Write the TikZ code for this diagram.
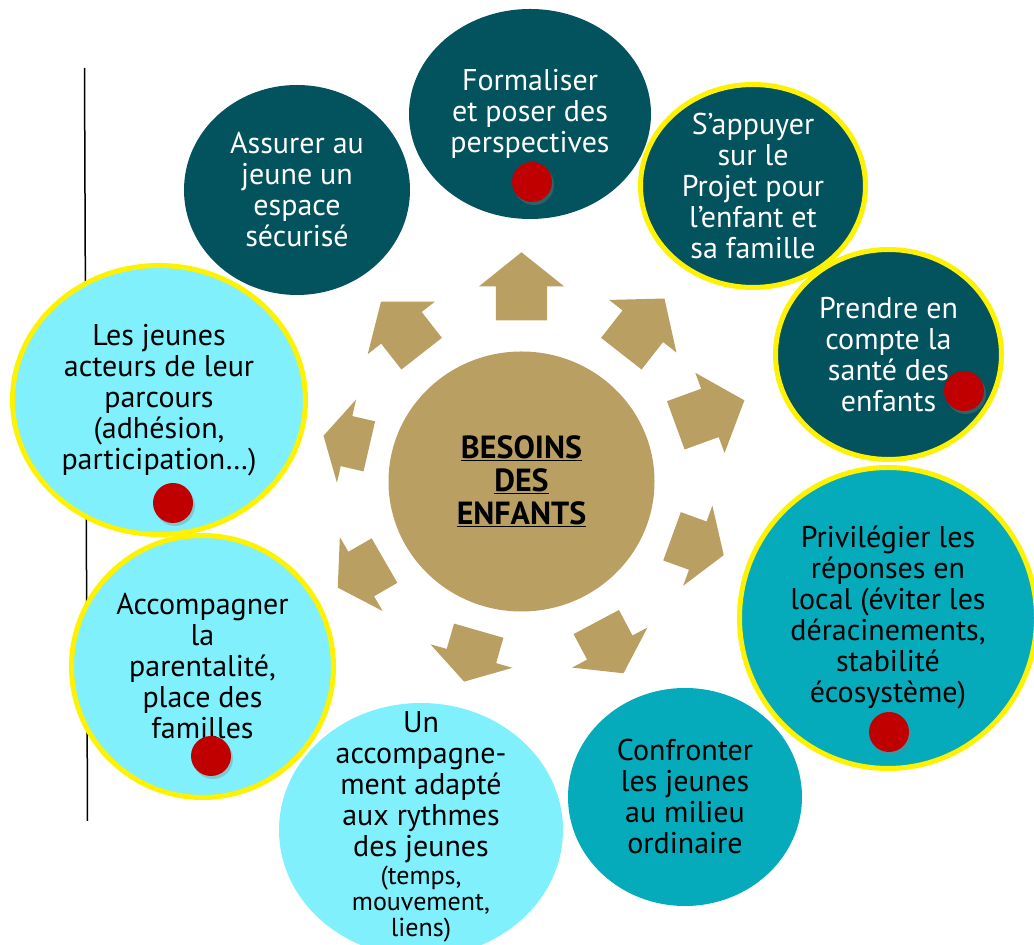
\documentclass[tikz,border=0pt]{standalone}
\usepackage{fontspec}
\setmainfont{PT Sans}
\usepackage{xcolor}
\usetikzlibrary{shapes,shadows,positioning,calc}

\definecolor{darkteal}{HTML}{03535E}
\definecolor{midteal}{HTML}{05AABB}
\definecolor{lightcyan}{HTML}{80F0FC}
\definecolor{gold}{HTML}{B9A062}
\definecolor{dotred}{HTML}{C00000}

\tikzset{
  bulle/.style={ellipse, inner sep=0pt},
  sombre/.style={bulle, fill=darkteal},
  moyen/.style={bulle, fill=midteal},
  clair/.style={bulle, fill=lightcyan},
  bord/.style={draw=yellow, line width=5pt},
  txtw/.style={text=white, align=center, inner sep=0pt, font=\fontsize{30}{31}\selectfont},
  txtn/.style={text=black, align=center, inner sep=0pt, font=\fontsize{30}{31}\selectfont},
  petit/.style={font=\fontsize{26}{26}\selectfont},
  point/.style={circle, fill=dotred, minimum size=40pt, inner sep=0pt,
    drop shadow={shadow xshift=2pt, shadow yshift=-3pt, opacity=.35}},
  fleche/.style={single arrow, fill=gold, inner xsep=0pt, inner ysep=25.5pt,
    minimum height=70pt, minimum width=85pt, single arrow head extend=17pt,
    single arrow tip angle=101, anchor=tail}
}

\begin{document}
\begin{tikzpicture}[x=1pt,y=1pt]
\useasboundingbox (0,0) rectangle (1034,945);
\clip (0,0) rectangle (1034,945);
\fill[white] (0,0) rectangle (1034,945);

\coordinate (haut) at (84.5,877);
\coordinate (bas) at (87.5,124);
\draw[line width=1.5pt] (haut) -- (bas);

% centre
\node[bulle, fill=gold, minimum width=266pt, minimum height=260pt,
  font=\bfseries\fontsize{32}{33}\selectfont, align=center] (besoins) at (521.5,463.5)
  {\underline{BESOINS}\\\underline{DES}\\\underline{ENFANTS}};

% fleches : angle / depart / longueur
\foreach \a/\r/\l [count=\i] in {90/161/68, 52/162/70, 20/164/73, -20/160/55, -62/159/58,
    -106/155/53, -150/158/54, 167/156/47, 128/162/66}{
  \pgfmathsetmacro\pointe{2*atan(85/\l)}
  \node[fleche, minimum height=\l, single arrow tip angle=\pointe, rotate=\a]
    (fleche\i) at ($(besoins.center)+(\a:\r)$) {};
}

% bulles
\node[sombre, minimum width=226pt, minimum height=210pt] (espace) at (297,755) {};
\node[txtw] (espace-t) at (espace) {Assurer au\\jeune un\\espace\\sécurisé};

\node[sombre, minimum width=242pt, minimum height=210pt] (perspectives) at (530,831) {};
\node[txtw] (perspectives-t) at (perspectives) {Formaliser\\et poser des\\perspectives};
\node[point] (perspectives-p) at (532,763) {};

\node[sombre, bord, minimum width=225pt, minimum height=203pt] (projet) at (753,759) {};
\node[txtw] (projet-t) at (projet) {S’appuyer\\sur le\\Projet pour\\l’enfant et\\sa famille};

\node[sombre, bord, minimum width=226pt, minimum height=210pt] (sante) at (888.5,590.5) {};
\node[txtw] (sante-t) at (sante) {Prendre en\\compte la\\santé des\\enfants};
\node[point] (sante-p) at (964,554) {};

\node[clair, minimum width=284pt, minimum height=254pt] (rythmes) at (421,115) {};
\node[txtn, below=9pt of rythmes.north] (rythmes-t) {Un\\accompagne-\\ment adapté\\aux rythmes\\des jeunes};
\node[txtn, petit, below=2pt of rythmes-t] (rythmes-s) {(temps,\\mouvement,\\liens)};

\node[clair, bord, minimum width=293pt, minimum height=269pt] (acteurs) at (159,545) {};
\node[txtn] (acteurs-t) at (acteurs) {Les jeunes\\acteurs de leur\\parcours\\(adhésion,\\participation…)};
\node[point] (acteurs-p) at (173,442) {};

\node[clair, bord, minimum width=262pt, minimum height=262pt] (parentalite) at (202.5,278.5) {};
\node[txtn] (parentalite-t) at (parentalite) {Accompagner\\la\\parentalité,\\place des\\familles};
\node[point] (parentalite-p) at (211,189) {};

\node[moyen, minimum width=234pt, minimum height=218pt] (milieu) at (685,148) {};
\node[txtn] (milieu-t) at (milieu) {Confronter\\les jeunes\\au milieu\\ordinaire};

\node[moyen, bord, minimum width=297pt, minimum height=301pt] (local) at (888,327) {};
\node[txtn] (local-t) at (local) {Privilégier les\\réponses en\\local (éviter les\\déracinements,\\stabilité\\écosystème)};
\node[point] (local-p) at (889,213) {};
\end{tikzpicture}
\end{document}
